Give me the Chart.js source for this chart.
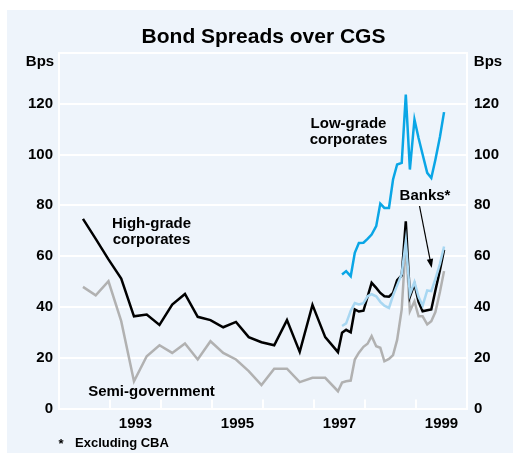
<!DOCTYPE html>
<html>
<head>
<meta charset="utf-8">
<title>Bond Spreads over CGS</title>
<script src="https://cdn.jsdelivr.net/npm/chart.js@4.4.0/dist/chart.umd.min.js"></script>
<style>
  html, body { margin: 0; padding: 0; background: #fff; }
  #wrap { width: 513px; height: 453px; }
</style>
</head>
<body>
<div id="wrap"><canvas id="myChart" width="513" height="453"></canvas></div>
<script>
// dates as decimal years; quarterly to mid-1997, monthly after
const quarterDates = [1992.47, 1992.72, 1992.97, 1993.22, 1993.47, 1993.72, 1993.97, 1994.22, 1994.47, 1994.72,
  1994.97, 1995.22, 1995.47, 1995.72, 1995.97, 1996.22, 1996.47, 1996.72, 1996.97, 1997.22, 1997.47];
const monthDates = [1997.55, 1997.63, 1997.72, 1997.80, 1997.88, 1997.97, 1998.05, 1998.13, 1998.22, 1998.30,
  1998.38, 1998.47, 1998.55, 1998.63, 1998.72, 1998.80, 1998.88, 1998.97, 1999.05, 1999.13,
  1999.22, 1999.30, 1999.38, 1999.47, 1999.55];

const highGradeQ = [74.7, 66.8, 58.7, 51.2, 36.3, 37.0, 32.9, 40.9, 45.1, 36.1,
  34.8, 32.0, 34.1, 28.1, 26.1, 24.9, 34.8, 22.3, 40.8, 28.1, 22.2];
const highGradeM = [29.8, 31, 30, 39, 38.2, 38.5, 44, 49.5, 47.5, 45.5,
  44.2, 44, 45.5, 50.5, 52.4, 73.7, 44, 49, 42, 38.3,
  38.7, 39, 46.5, 54.5, 62.5];

const semiGovQ = [47.9, 44.6, 50.1, 34.4, 10.7, 20.6, 24.9, 21.9, 25.6, 19.3,
  26.5, 21.9, 19.3, 14.7, 9.2, 15.7, 15.7, 10.4, 12.1, 12.1, 6.8];
const semiGovM = [10.2, 10.7, 11, 19.3, 22, 24.3, 25.5, 28.5, 24.5, 23.9,
  18.6, 19.5, 21, 27, 39, 65.2, 38.3, 42.2, 36.3, 36.3,
  33.1, 34.4, 38, 46, 54.1];

const lowGrade = [52.8, 54.1, 52.1, 61.3, 65.2, 65.3, 66.8, 68.5, 71.8, 80.7,
  79, 79, 90.2, 96.1, 96.7, 123.6, 94.1, 113.8, 106.5, 100,
  92.8, 90.8, 98, 107, 116.7];
const banks = [32.5, 33.5, 38.5, 41.5, 41, 41.5, 44.2, 45, 44.2, 42,
  40.5, 39.6, 44.5, 48.5, 53, 65.9, 45, 49.8, 44, 40.5,
  46.5, 46.2, 51, 57, 63.8];

const xLabels = ['1993', '1995', '1997', '1999'];
const yearMarks = [1993, 1994, 1995, 1996, 1997, 1998, 1999];
const yTicks = [0, 20, 40, 60, 80, 100, 120, 140];

const FONT = '"Liberation Sans", Arial, sans-serif';
const PANEL = '#EEF4FB';

const toPoints = (xs, ys) => xs.map((x, i) => ({ x: x, y: ys[i] }));

const decor = {
  id: 'decor',
  beforeDraw(chart) {
    const ctx = chart.ctx;
    ctx.save();
    ctx.fillStyle = PANEL;
    ctx.fillRect(7, 10, 506, 443);
    ctx.restore();
  },
  beforeDatasetsDraw(chart) {
    // short white year marks rising from the bottom edge
    const ctx = chart.ctx, xs = chart.scales.x, area = chart.chartArea;
    ctx.save();
    ctx.strokeStyle = '#fff';
    ctx.lineWidth = 2;
    yearMarks.forEach(yr => {
      const px = Math.round(xs.getPixelForValue(yr));
      ctx.beginPath();
      ctx.moveTo(px, area.bottom);
      ctx.lineTo(px, area.bottom - 9);
      ctx.stroke();
    });
    ctx.restore();
  },
  afterDraw(chart) {
    const ctx = chart.ctx;
    ctx.save();
    ctx.fillStyle = '#000';
    ctx.textBaseline = 'middle';
    ctx.textAlign = 'center';
    ctx.font = 'bold 21px ' + FONT;
    ctx.fillText('Bond Spreads over CGS', 263.5, 37);

    ctx.font = 'bold 15px ' + FONT;
    ctx.fillText('Bps', 40, 62);
    ctx.fillText('Bps', 488, 62);

    ctx.fillText('Low-grade', 348.5, 123.5);
    ctx.fillText('corporates', 348.5, 139.5);
    ctx.fillText('High-grade', 151.5, 223.5);
    ctx.fillText('corporates', 151.5, 240);
    ctx.fillText('Semi-government', 151.5, 392);
    ctx.fillText('Banks*', 425, 196);

    // arrow to the banks line
    const x0 = 419.5, y0 = 206, x1 = 431.7, y1 = 268;
    const ang = Math.atan2(y1 - y0, x1 - x0);
    ctx.strokeStyle = '#000';
    ctx.lineWidth = 1.2;
    ctx.beginPath();
    ctx.moveTo(x0, y0);
    ctx.lineTo(x1 - 7 * Math.cos(ang), y1 - 7 * Math.sin(ang));
    ctx.stroke();
    ctx.beginPath();
    ctx.moveTo(x1, y1);
    ctx.lineTo(x1 - 9 * Math.cos(ang) + 3.2 * Math.sin(ang), y1 - 9 * Math.sin(ang) - 3.2 * Math.cos(ang));
    ctx.lineTo(x1 - 9 * Math.cos(ang) - 3.2 * Math.sin(ang), y1 - 9 * Math.sin(ang) + 3.2 * Math.cos(ang));
    ctx.closePath();
    ctx.fill();

    ctx.font = 'bold 13px ' + FONT;
    ctx.fillText('*', 61, 444);
    ctx.textAlign = 'left';
    ctx.fillText('Excluding CBA', 75, 443);
    ctx.restore();
  }
};

const tickFont = { family: FONT, size: 15, weight: 'bold' };

const yAxis = (pos, width, pad) => ({
  position: pos,
  min: 0,
  max: 140,
  afterBuildTicks: s => { s.ticks = yTicks.map(v => ({ value: v })); },
  ticks: {
    padding: pad,
    color: '#000',
    font: tickFont,
    callback: v => (v === 140 ? '' : v)
  },
  grid: { color: '#fff', lineWidth: 2, drawTicks: false, display: pos === 'left' },
  border: { display: true, color: '#fff', width: 2 },
  afterFit: s => { s.width = width; }
});

const ctx = document.getElementById('myChart').getContext('2d');
new Chart(ctx, {
  type: 'line',
  data: {
    datasets: [
      {
        label: 'Low-grade corporates',
        data: toPoints(monthDates, lowGrade),
        borderColor: '#0AA6E6',
        order: 1
      },
      {
        label: 'Banks*',
        data: toPoints(monthDates, banks),
        borderColor: '#A8D7F2',
        order: 2
      },
      {
        label: 'High-grade corporates',
        data: toPoints(quarterDates.concat(monthDates), highGradeQ.concat(highGradeM)),
        borderColor: '#000000',
        order: 3
      },
      {
        label: 'Semi-government',
        data: toPoints(quarterDates.concat(monthDates), semiGovQ.concat(semiGovM)),
        borderColor: '#B1B1B1',
        order: 4
      }
    ]
  },
  options: {
    responsive: false,
    animation: false,
    devicePixelRatio: 1,
    layout: { padding: { top: 53, left: 0, right: 0, bottom: 0 } },
    elements: {
      point: { radius: 0 },
      line: { borderWidth: 2.5, tension: 0, fill: false }
    },
    plugins: {
      legend: { display: false },
      title: { display: false },
      tooltip: { enabled: false }
    },
    scales: {
      x: {
        type: 'linear',
        min: 1992,
        max: 2000,
        afterBuildTicks: s => { s.ticks = xLabels.map(l => ({ value: Number(l) + 0.5 })); },
        ticks: {
          autoSkip: false,
          maxRotation: 0,
          padding: 6,
          color: '#000',
          font: tickFont,
          callback: v => String(Math.floor(v))
        },
        grid: { display: false, drawTicks: false },
        border: { display: false },
        afterFit: s => { s.height = 44.5; }
      },
      y: yAxis('left', 59, 6),
      y2: yAxis('right', 46, 7)
    }
  },
  plugins: [decor]
});
</script>
</body>
</html>
